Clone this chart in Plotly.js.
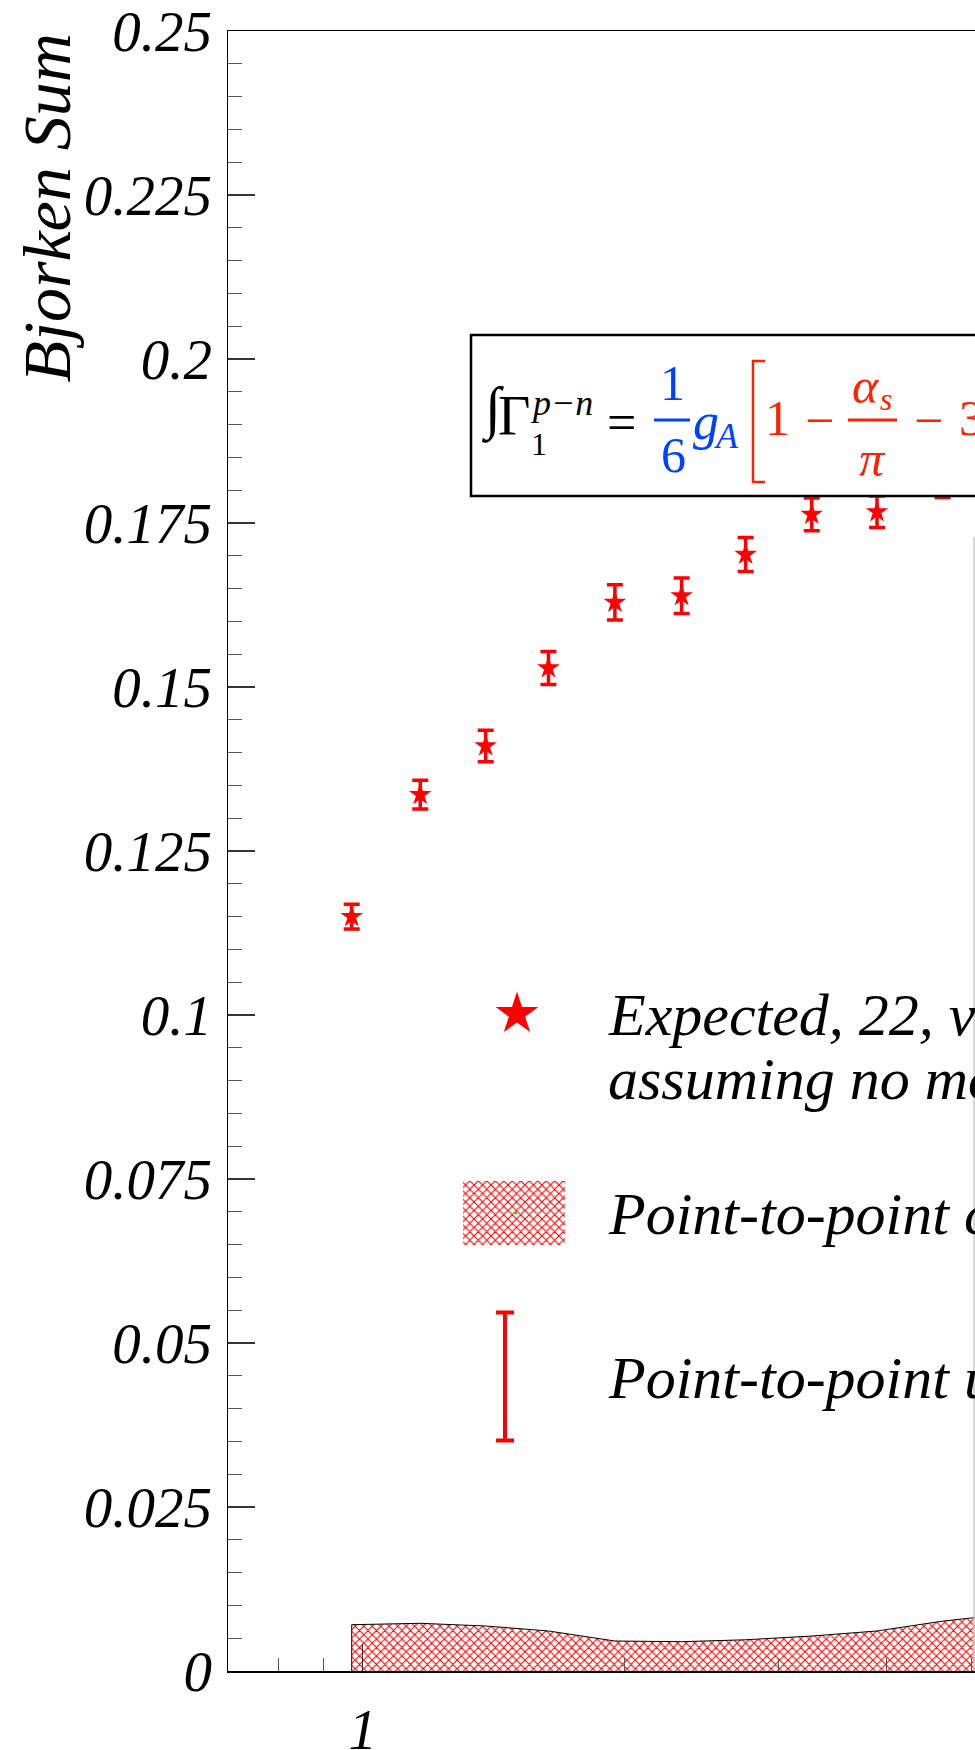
<!DOCTYPE html>
<html>
<head>
<meta charset="utf-8">
<script src="https://cdn.plot.ly/plotly-3.0.1.min.js"></script>
<style>html,body{margin:0;padding:0;background:#fff;overflow:hidden;}</style>
</head>
<body>
<div id="chart" style="width:975px;height:1750px;"></div>
<script>
// ---- data ----
const q2 = [0.971, 1.164, 1.384, 1.634, 1.948, 2.324, 2.753, 3.279, 3.897, 4.636, 5.51];
const bjorkenSum = [0.1150, 0.1336, 0.1410, 0.1529, 0.1629, 0.1639, 0.1702, 0.1763, 0.1767, 0.1815, 0.1830];
const statError = [0.0019, 0.0022, 0.0024, 0.0025, 0.0027, 0.0027, 0.0026, 0.0025, 0.0024, 0.0026, 0.0026];
const sysBand = [0.00706, 0.00727, 0.00686, 0.0061, 0.00457, 0.00447, 0.00476, 0.00533, 0.0061, 0.0076, 0.0087];

const yTickVals = [0, 0.025, 0.05, 0.075, 0.1, 0.125, 0.15, 0.175, 0.2, 0.225, 0.25];
const yTickText = ['0', '0.025', '0.05', '0.075', '0.1', '0.125', '0.15', '0.175', '0.2', '0.225', '0.25'];
const xTickVals = [1];
const xTickText = ['1'];
const xMinorVals = [0.8, 0.9, 2, 3, 4, 5];

const legendText = [
  'Expected, 22, values',
  'assuming no model',
  'Point-to-point correlated',
  'Point-to-point uncorrelated'
];

// ---- styles ----
const SERIF = 'Liberation Serif, Times New Roman, serif';
const RED = '#ff0000';
const FRED = '#ff2200';
const FBLUE = '#0040ff';

// plot area in page pixels (used for the overlay pixel axes)
const L = 228, R = 975, T = 31, B = 1671;

const bandX = [q2[0]].concat(q2, [q2[q2.length - 1]]);
const bandY = [0].concat(sysBand, [0]);

const HATCH = {shape: 'x', fgcolor: RED, bgcolor: 'white', size: 6, solidity: 0.34};

const traces = [
  {
    x: bandX, y: bandY, type: 'scatter', mode: 'lines',
    fill: 'toself', fillcolor: 'rgba(0,0,0,0)', fillpattern: HATCH,
    line: {color: 'black', width: 1}, hoverinfo: 'skip', showlegend: false
  },
  {
    x: q2, y: bjorkenSum, type: 'scatter', mode: 'markers',
    marker: {symbol: 'star', size: 17, color: RED, line: {width: 0}},
    error_y: {type: 'data', array: statError, visible: true, color: RED, thickness: 3.5, width: 8},
    showlegend: false
  },
  // legend swatches drawn on a pixel overlay axis
  {
    x: [517], y: [1014], xaxis: 'x2', yaxis: 'y2', type: 'scatter', mode: 'markers',
    marker: {symbol: 'star', size: 32, color: RED, line: {width: 0}}, showlegend: false, hoverinfo: 'skip'
  },
  {
    x: [463, 565, 565, 463, 463], y: [1181, 1181, 1245, 1245, 1181], xaxis: 'x2', yaxis: 'y2',
    type: 'scatter', mode: 'lines', fill: 'toself', fillcolor: 'rgba(0,0,0,0)', fillpattern: HATCH,
    line: {width: 0, color: 'rgba(0,0,0,0)'}, showlegend: false, hoverinfo: 'skip'
  },
  {
    x: [516], y: [1213], xaxis: 'x2', yaxis: 'y2', type: 'scatter', mode: 'markers',
    marker: {size: 3, color: '#00ee00'}, showlegend: false, hoverinfo: 'skip'
  },
  {
    x: [505], y: [1376.5], xaxis: 'x2', yaxis: 'y2', type: 'scatter', mode: 'markers',
    marker: {size: 1, color: RED, opacity: 0},
    error_y: {type: 'constant', value: 64, visible: true, color: RED, thickness: 4, width: 9},
    showlegend: false, hoverinfo: 'skip'
  }
];

function ann(text, x, y, size, color, opts) {
  return Object.assign({
    text: text, x: x, y: y, xref: 'x2', yref: 'y2', showarrow: false,
    xanchor: 'center', yanchor: 'middle',
    font: {family: SERIF, size: size, color: color}
  }, opts || {});
}
function itFont(size, color) { return {family: SERIF, size: size, color: color, style: 'italic'}; }

const annotations = [
  // y-axis title
  {text: 'Bjorken Sum', xref: 'paper', yref: 'paper', x: (46 - L) / (R - L), y: 1 - (32 - T) / (B - T),
   xanchor: 'center', yanchor: 'top', textangle: -90, showarrow: false, font: itFont(68, 'black')},
  // formula
  ann('\u222B', 492, 409, 58, 'black'),
  ann('\u0393', 514, 416, 56, 'black'),
  ann('p\u2212n', 528, 403, 36, 'black', {xanchor: 'left', font: itFont(36, 'black')}),
  ann('1', 539, 444, 32, 'black'),
  ann('=', 621, 422, 52, 'black'),
  ann('1', 672.5, 383, 50, FBLUE),
  ann('6', 673, 455, 50, FBLUE),
  ann('g', 706, 421, 52, FBLUE, {font: itFont(52, FBLUE)}),
  ann('A', 726, 436, 36, FBLUE, {font: itFont(36, FBLUE)}),
  ann('1', 777.5, 418, 50, FRED),
  ann('\u2212', 819, 420, 52, FRED),
  ann('\u03B1', 866, 386, 50, FRED, {font: itFont(50, FRED)}),
  ann('s', 886, 399, 32, FRED, {font: itFont(32, FRED)}),
  ann('\u03C0', 872.5, 459, 50, FRED, {font: itFont(50, FRED)}),
  ann('\u2212', 928, 420, 52, FRED),
  ann('3', 957, 418, 50, FRED, {xanchor: 'left'}),
  // legend texts
  ann(legendText[0], 606, 1015, 60, 'black', {xanchor: 'left', font: itFont(60, 'black')}),
  ann(legendText[1], 606, 1079, 60, 'black', {xanchor: 'left', font: itFont(60, 'black')}),
  ann(legendText[2], 606, 1214, 60, 'black', {xanchor: 'left', font: itFont(60, 'black')}),
  ann(legendText[3], 606, 1378, 60, 'black', {xanchor: 'left', font: itFont(60, 'black')})
];

const shapes = [
  // formula box
  {type: 'rect', xref: 'x2', yref: 'y2', x0: 471, x1: 1300, y0: 335, y1: 496,
   fillcolor: 'white', line: {color: 'black', width: 2.5}, layer: 'above'},
  // fraction bars
  {type: 'line', xref: 'x2', yref: 'y2', x0: 654, x1: 690, y0: 420, y1: 420, line: {color: FBLUE, width: 3}},
  {type: 'line', xref: 'x2', yref: 'y2', x0: 848, x1: 897, y0: 420, y1: 420, line: {color: FRED, width: 3}},
  // bracket
  {type: 'path', xref: 'x2', yref: 'y2', path: 'M 765 361 L 753 361 L 753 482 L 765 482',
   line: {color: FRED, width: 2.5}},
  // light grey vertical line at the right edge
  {type: 'line', xref: 'x2', yref: 'y2', x0: 974, x1: 974, y0: 537, y1: 1671, line: {color: '#c8c8c8', width: 1.5}}
];

const layout = {
  width: 975, height: 1750,
  margin: {l: L, r: 975 - R, t: T, b: 1750 - B, pad: 0},
  paper_bgcolor: 'white', plot_bgcolor: 'white',
  showlegend: false,
  xaxis: {
    type: 'log', range: [Math.log10(0.70), Math.log10(5.05)],
    showline: true, linecolor: 'black', linewidth: 1.5, mirror: true,
    showgrid: false, zeroline: false,
    tickmode: 'array', tickvals: xTickVals, ticktext: xTickText,
    ticks: 'inside', ticklen: 27, tickwidth: 1, tickcolor: '#333',
    ticklabelstandoff: 8, ticklabeloverflow: 'allow',
    tickfont: itFont(57, 'black'),
    minor: {tickmode: 'array', tickvals: xMinorVals, ticks: 'inside', ticklen: 13, tickwidth: 1, tickcolor: '#555', showgrid: false}
  },
  yaxis: {
    range: [0, 0.25],
    showline: true, linecolor: 'black', linewidth: 1.5, mirror: false,
    showgrid: false, zeroline: false,
    tickmode: 'array', tickvals: yTickVals, ticktext: yTickText,
    ticks: 'inside', ticklen: 27, tickwidth: 1.2, tickcolor: '#333',
    ticklabelstandoff: 3, ticklabeloverflow: 'allow',
    tickfont: itFont(57, 'black'),
    minor: {dtick: 0.005, ticks: 'inside', ticklen: 14, tickwidth: 1, tickcolor: '#555', showgrid: false}
  },
  xaxis2: {overlaying: 'x', anchor: 'y2', range: [L, R], visible: false, fixedrange: true},
  yaxis2: {overlaying: 'y', anchor: 'x2', range: [B, T], visible: false, fixedrange: true},
  annotations: annotations,
  shapes: shapes
};

Plotly.newPlot('chart', traces, layout, {displayModeBar: false, staticPlot: true});
</script>
</body>
</html>
